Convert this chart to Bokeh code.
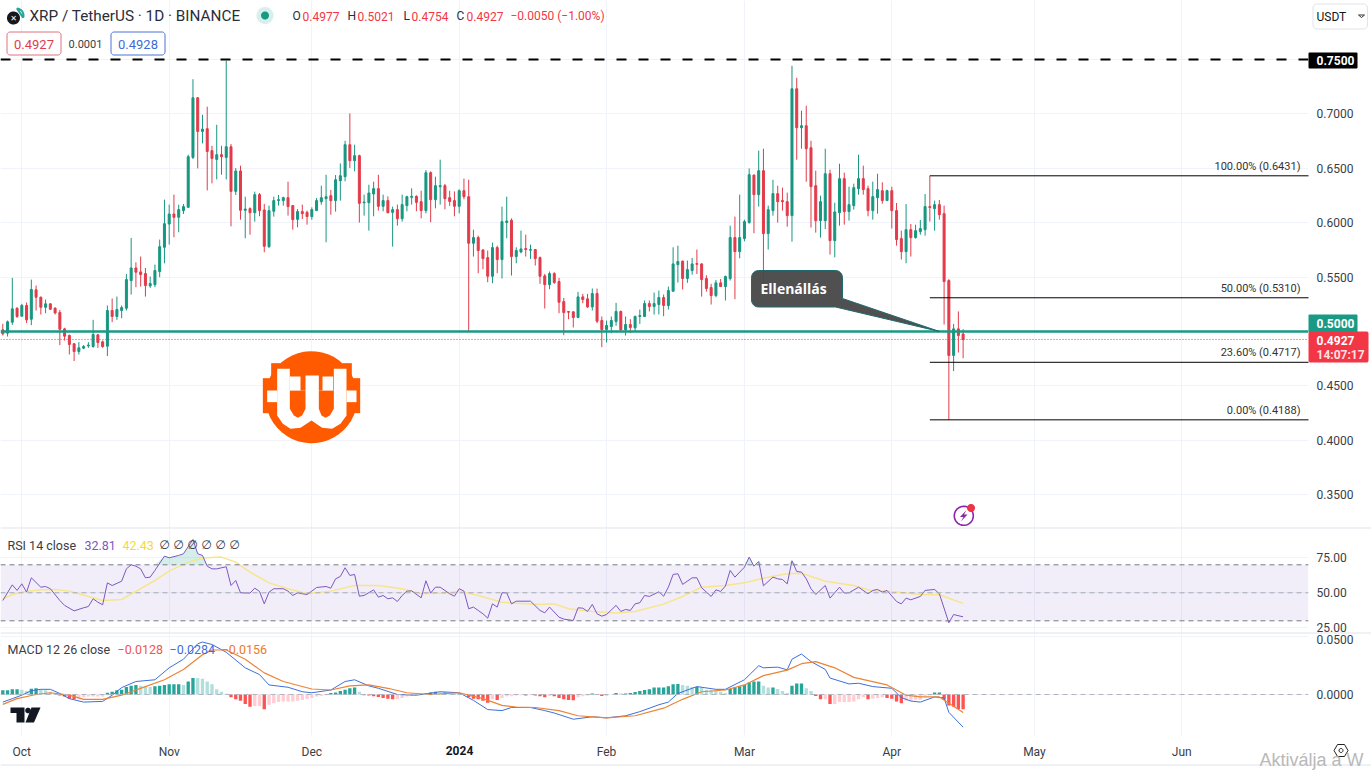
import numpy as np
import pandas as pd
from bokeh.embed import file_html
from bokeh.layouts import column
from bokeh.models import (BoxAnnotation, ColumnDataSource, FixedTicker, Label, NumeralTickFormatter,
                          PolyAnnotation, Range1d, Span)
from bokeh.plotting import figure
from bokeh.resources import INLINE

last_day = "2024-04-16"

highs = [
.5070,.5101,.5493,.5223,.5254,.5266,.5477,.5422,.5321,.5294,
.5260,.5223,.5199,.5034,.4972,.4893,.4902,.4875,.4902,.5107,
.4979,.4917,.5239,.5303,.5321,.5239,.5529,.5860,.5636,.5689,
.5584,.5505,.5615,.5845,.6212,.6166,.6258,.6166,.6172,.6625,
.7319,.7154,.6992,.7066,.6707,.6900,.6707,.7488,.6723,.6502,
.6524,.6239,.6141,.6285,.6273,.6172,.6157,.6239,.6255,.6239,
.6377,.6163,.6126,.6166,.6111,.6141,.6227,.6340,.6441,
.6300,.6438,.6545,.6753,.7004,.6717,.6625,.6258,.6349,.6377,
.6441,.6258,.6242,.6148,.6166,.6258,.6248,.6316,.6252,.6294,
.6484,.6472,.6423,.6579,.6356,.6294,.6288,.6307,.6405,.6395,
.5936,.5881,.5753,.5744,.5817,.5789,.6148,.6239,.6040,.5774,
.5927,.5890,.5799,.5759,.5689,.5529,.5551,.5545,.5493,.5309,
.5184,.5184,.5364,.5346,.5346,.5395,.5395,.5138,.5101,.5138,
.5263,.5193,.5138,.5113,.5147,.5202,.5285,.5285,.5358,.5376,
.5340,.5413,.5774,.5789,.5652,.5652,.5676,.5753,.5627,.5517,
.5438,.5474,.5483,.5514,.5973,.6056,.6258,.6028,.6499,.6441,
.6662,.6680,.6157,.6395,.6340,.6322,.6276,.7442,.7332,.7029,
.7075,.6753,.6478,.6248,.6680,.6487,.6184,.6542,.6460,.6331,
.6359,.6625,.6524,.6340,.6377,.6450,.6371,.6304,.6331,.6181,
.5927,.6172,.5988,.5982,.6025,.6264,.6431,.6203,.6209,.6157,
.5481,.5070,.5184,.5021]

body_tops = [
.5015,.5089,.5208,.5214,.5239,.5239,.5386,.5383,.5315,.5254,
.5254,.5214,.5174,.5024,.4963,.4887,.4850,.4862,.4875,.4972,
.4969,.4905,.5193,.5193,.5202,.5220,.5477,.5584,.5584,.5548,
.5532,.5441,.5560,.5780,.5991,.6080,.6080,.6120,.6148,.6607,
.7148,.7148,.6860,.6864,.6662,.6625,.6625,.6698,.6698,.6475,
.6475,.6126,.6129,.6258,.6258,.6117,.6111,.6203,.6212,.6230,
.6230,.6157,.6102,.6102,.6095,.6120,.6203,.6230,.6239,
.6248,.6395,.6432,.6717,.6717,.6616,.6616,.6190,.6273,.6313,
.6313,.6203,.6203,.6120,.6120,.6166,.6239,.6242,.6242,.6193,
.6460,.6460,.6340,.6340,.6340,.6230,.6203,.6294,.6294,.6239,
.5863,.5863,.5750,.5679,.5771,.5771,.6010,.6016,.6022,.5744,
.5759,.5762,.5753,.5753,.5679,.5511,.5532,.5532,.5459,.5275,
.5184,.5181,.5318,.5318,.5300,.5349,.5349,.5101,.5055,.5101,
.5184,.5184,.5064,.5064,.5138,.5147,.5257,.5257,.5257,.5312,
.5312,.5376,.5621,.5643,.5646,.5569,.5621,.5624,.5621,.5487,
.5404,.5447,.5447,.5505,.5863,.5863,.5863,.6010,.6441,.6438,
.6478,.6478,.6120,.6267,.6267,.6203,.6193,.7231,.7231,.6891,
.6891,.6689,.6340,.6193,.6450,.6450,.6099,.6405,.6405,.6166,
.6322,.6405,.6405,.6313,.6239,.6304,.6294,.6294,.6294,.6111,
.5854,.5936,.5936,.5927,.5946,.6148,.6148,.6166,.6166,.6083,
.5468,.5024,.5024,.4977]

body_bottoms = [
.4979,.4985,.5086,.5138,.5141,.5107,.5113,.5315,.5223,.5223,
.5205,.5171,.5021,.4957,.4881,.4816,.4816,.4847,.4868,.4862,
.4899,.4862,.4865,.5138,.5138,.5193,.5214,.5468,.5545,.5523,
.5422,.5419,.5431,.5551,.5774,.5988,.6050,.6050,.6111,.6141,
.6600,.6839,.6839,.6655,.6591,.6582,.6607,.6600,.6288,.6288,
.6114,.6114,.6092,.6092,.6111,.5783,.5780,.6105,.6203,.6203,
.6148,.6028,.6031,.6083,.6056,.6056,.6111,.6193,.6221,
.6203,.6203,.6386,.6423,.6570,.6570,.6178,.6184,.6184,.6264,
.6151,.6151,.6092,.6095,.6037,.6037,.6157,.6233,.6187,.6111,
.6111,.6212,.6212,.6331,.6221,.6196,.6151,.6151,.6239,.5811,
.5811,.5744,.5670,.5508,.5508,.5661,.5661,.6001,.5689,.5689,
.5731,.5753,.5747,.5670,.5508,.5431,.5431,.5450,.5269,.5174,
.5177,.5129,.5129,.5294,.5226,.5226,.5095,.5018,.5018,.5046,
.5092,.5015,.5015,.5037,.5034,.5138,.5138,.5230,.5230,.5248,
.5239,.5239,.5370,.5615,.5487,.5487,.5560,.5618,.5477,.5395,
.5330,.5330,.5413,.5413,.5487,.5734,.5734,.5854,.6001,.6258,
.6258,.5900,.5900,.6111,.6193,.6193,.6065,.6065,.6873,.6873,
.6680,.6331,.6019,.6019,.6019,.5835,.5835,.6092,.6102,.6102,
.6157,.6313,.6304,.6111,.6111,.6230,.6203,.6203,.6111,.5845,
.5734,.5734,.5863,.5863,.5918,.5936,.6139,.6129,.6074,.5459,
.4780,.4780,.4963,.4927]

lows = [
.4963,.4954,.5061,.5125,.5138,.5077,.5058,.5193,.5156,.5168,
.5199,.5156,.4875,.4917,.4789,.4728,.4789,.4838,.4850,.4850,
.4850,.4850,.4774,.5086,.5107,.5122,.5193,.5340,.5407,.5413,
.5321,.5401,.5407,.5499,.5627,.5799,.5866,.5912,.6080,.6141,
.6585,.6499,.6729,.6297,.6362,.6398,.6441,.6398,.5967,.6255,
.6028,.5857,.5890,.6010,.6059,.5728,.5768,.6056,.6157,.6157,
.6065,.5936,.5958,.6034,.5982,.6028,.6111,.6166,.5820,
.6074,.6102,.6203,.6380,.6502,.6472,.6001,.6065,.5927,.6059,
.6111,.6105,.6086,.5780,.5973,.6010,.6105,.6166,.6105,.6040,
.6086,.6004,.6132,.6166,.6123,.6154,.6059,.6086,.6215,.5000,
.5689,.5536,.5572,.5453,.5444,.5536,.5487,.5857,.5514,.5627,
.5719,.5689,.5667,.5606,.5438,.5211,.5389,.5438,.5168,.4966,
.5113,.5037,.5122,.5260,.5217,.5193,.5077,.4856,.4899,.4985,
.5052,.5000,.4963,.4985,.5000,.5070,.5138,.5184,.5156,.5156,
.5141,.5202,.5370,.5450,.5386,.5447,.5523,.5529,.5321,.5367,
.5248,.5315,.5413,.5285,.5468,.5297,.5673,.5829,.5991,.5903,
.6148,.5438,.5753,.6065,.6001,.6111,.5964,.5826,.6579,.6680,
.6377,.5955,.5909,.5863,.5942,.5707,.5682,.5973,.5982,.6019,
.6120,.6258,.6258,.6059,.6028,.6083,.6175,.6203,.5946,.5789,
.5661,.5627,.5689,.5854,.5890,.5881,.6010,.5927,.6028,.5064,
.4188,.4636,.4807,.4754]

directions = ("RGGRGRGRRG" "RRRRRRGGGG" "RRGRGGGGRR" "RGGGGGRGGG" "GRGRRGRGRG"
              "RGRGRRGGGG" "RRGRRGGGGR" "GGGRGRGGGR" "GRGRGGGRRG" "RGGRRRGRRG"
              "RRRGRGGRGG" "RGRRRGRRRR" "RGRRGRRGGG" "RGRGGGRGGR" "GGGRGGRRRR"
              "GRGGRGGGRG" "RGGRRRGRGR" "RRGGRGGRGG" "GRRGGRGRRR" "GRGGGRGRRR" "GRR")

rsi_bars = [0,2,3,4,5,6,8,9,10,12,13,15,17,18,19,20,21,22,23,25,26,27,28,29,30,31,32,34,35,37,38,40,41,42,43,44,45,47,48,49,50,
 52,53,54,55,56,57,59,60,61,62,63,64,65,66,68,69,70,71,72,73,74,75,76,78,79,80,81,82,83,84,85,86,88,89,90,91,92,94,95,96,97,98,
 99,100,101,102,103,104,105,106,107,108,111,113,114,115,117,118,120,121,122,123,124,125,126,127,129,130,131,132,133,134,135,136,
 138,139,140,141,142,143,145,146,147,149,150,151,152,153,154,156,157,158,159,160,162,163,164,165,166,167,168,169,170,171,173,174,
 176,177,178,180,182,183,184,185,186,188,189,190,191,193,194,196,197,199,200,202]
rsi_values = [44.5,55.7,51.7,56.4,50.5,60.7,54.0,54.5,52.9,44.5,41.0,37.1,39.3,40.2,45.7,43.3,41.4,57.1,55.2,58.3,67.1,70.0,69.0,67.1,60.7,61.2,66.0,76.2,75.0,76.7,77.9,88.1,77.9,76.7,69.0,67.1,67.1,68.6,55.2,58.8,50.0,
 49.8,53.3,51.0,42.1,50.5,52.9,52.9,51.2,48.1,50.0,49.3,48.8,51.2,53.8,54.5,53.3,60.0,61.7,67.9,62.4,63.1,47.6,48.1,52.1,46.9,48.1,45.7,46.4,43.8,48.1,51.2,51.4,46.4,58.6,49.8,54.0,54.0,49.3,47.6,52.9,51.2,38.6,
 39.8,37.4,35.0,31.9,42.1,39.8,50.0,50.0,42.1,44.0,44.0,37.4,35.7,39.8,32.6,31.2,30.2,39.3,39.0,36.7,41.7,35.0,33.3,34.5,41.0,36.7,38.1,37.4,42.1,42.9,48.1,47.4,
 50.7,47.6,54.0,63.1,63.6,56.0,60.7,60.7,53.6,47.4,52.1,51.0,54.8,66.0,61.2,68.3,75.5,69.0,72.4,55.0,61.2,60.0,59.5,56.4,72.9,65.2,64.8,60.0,52.9,48.8,55.2,46.2,
 54.0,49.8,50.0,54.0,49.3,51.7,52.4,50.5,51.7,43.8,42.1,46.2,45.0,47.4,51.7,52.4,49.3,28.6,34.5,32.81]

rsi_ma_bars = [0,2,4,8,11,14,18,21,25,28,32,35,39,42,46,49,52,56,60,64,69,74,79,84,88,93,96,100,105,108,113,116,119,124,129,133,139,143,147,152,156,161,165,168,173,179,183,187,193,197,202]
rsi_ma_values = [45.7,48.6,50.5,52.1,52.4,51.2,47.4,44.5,45.2,51.0,58.8,65.5,71.9,74.8,75.5,71.9,64.8,57.1,52.9,49.3,51.2,55.2,55.2,52.9,49.3,49.8,51.2,48.1,43.3,42.6,41.7,42.1,38.6,36.7,35.5,36.7,41.9,47.4,54.0,55.2,57.1,61.2,63.6,64.0,58.3,55.2,51.2,51.0,48.8,48.6,42.43]

macd_bars = [0,2,4,6,8,10,12,14,17,21,23,25,28,32,35,38,41,42,44,47,51,54,56,60,63,65,69,72,74,77,79,83,87,92,96,99,102,105,107,111,114,116,120,124,127,131,134,138,140,142,146,150,152,156,159,160,163,165,166,168,170,173,174,178,180,183,187,189,191,193,196,198,199,202]
macd_values = [-.0066,-.0036,-.0006,.0033,.0045,.0045,.0009,-.0036,-.0066,-.0060,-.0006,.0060,.0113,.0128,.0232,.0307,.0441,.0456,.0435,.0367,.0232,.0173,.0083,.0063,.0024,.0015,.0039,.0113,.0128,.0075,.0054,.0000,-.0006,.0024,.0015,-.0051,-.0131,-.0140,-.0113,-.0113,-.0140,-.0161,-.0215,-.0194,-.0203,-.0185,-.0149,-.0089,-.0066,.0009,.0069,.0045,.0045,.0128,.0250,.0232,.0238,.0215,.0307,.0352,.0286,.0218,.0143,.0092,.0098,.0069,.0054,-.0027,-.0057,-.0066,-.0021,-.0030,-.0155,-.0284]

signal_bars = [0,3,7,10,14,17,21,25,30,34,38,42,44,47,51,55,59,65,69,73,77,81,85,90,96,101,105,108,112,117,121,127,133,139,143,147,152,156,160,165,168,171,175,179,186,190,193,197,202]
signal_values = [-.0086,-.0036,.0000,.0015,-.0006,-.0042,-.0042,-.0006,.0069,.0128,.0218,.0346,.0387,.0387,.0307,.0188,.0113,.0048,.0039,.0075,.0083,.0054,.0015,.0000,.0015,-.0036,-.0095,-.0110,-.0113,-.0140,-.0185,-.0203,-.0185,-.0119,-.0042,.0024,.0039,.0083,.0164,.0212,.0268,.0286,.0232,.0149,.0083,-.0006,-.0021,-.0021,-.0156]

histogram = [
.0036,.0036,.0045,.0045,.0042,.0030,.0051,.0054,.0042,.0036,
.0024,.0012,-.0009,-.0018,-.0036,-.0042,-.0042,-.0024,-.0018,-.0018,
-.0018,-.0018,.0015,.0024,.0036,.0042,.0066,.0077,.0083,.0075,
.0072,.0066,.0072,.0077,.0083,.0089,.0089,.0089,.0083,.0113,
.0143,.0143,.0137,.0113,.0089,.0045,.0024,.0006,-.0024,-.0042,
-.0054,-.0083,-.0107,-.0101,-.0101,-.0128,-.0089,-.0077,-.0066,-.0060,
-.0060,-.0060,-.0054,-.0048,-.0042,-.0030,-.0018,-.0012,-.0006,.0012,
.0018,.0030,.0042,.0054,.0060,.0024,-.0006,-.0009,-.0015,-.0021,
-.0030,-.0036,-.0042,-.0042,-.0030,-.0018,-.0012,-.0006,.0003,.0009,
.0018,.0024,.0018,.0018,.0009,.0006,.0006,.0003,-.0024,-.0036,
-.0042,-.0054,-.0072,-.0042,-.0048,-.0030,-.0015,-.0015,-.0009,-.0006,
-.0009,-.0006,-.0009,-.0015,-.0024,-.0012,-.0015,-.0030,-.0042,-.0048,
-.0051,-.0024,-.0015,-.0009,.0009,-.0003,-.0012,-.0012,.0000,.0012,
.0009,.0009,.0012,.0021,.0030,.0039,.0045,.0060,.0060,.0060,
.0072,.0089,.0092,.0083,.0077,.0066,.0066,.0060,.0042,.0039,
.0036,.0024,.0012,.0048,.0060,.0072,.0083,.0104,.0113,.0113,
.0077,.0060,.0060,.0048,.0030,.0012,.0077,.0095,.0095,.0054,
.0030,-.0012,-.0042,-.0042,-.0083,-.0083,-.0066,-.0066,-.0066,-.0060,
-.0042,-.0024,-.0042,-.0036,-.0030,-.0024,-.0030,-.0036,-.0060,-.0077,
-.0054,-.0054,-.0045,-.0045,-.0018,-.0009,.0018,.0018,-.0045,-.0095,
-.0107,-.0125,-.0128]

fib_levels = [0.6431, 0.5310, 0.4717, 0.4188]
fib_labels = ["100.00% (0.6431)", "50.00% (0.5310)", "23.60% (0.4717)", "0.00% (0.4188)"]
fib_start_bar = 195
price_ticks = [0.35, 0.40, 0.45, 0.50, 0.55, 0.60, 0.65, 0.70, 0.75]
rsi_ticks = [25, 50, 75]
macd_ticks = [0.0, 0.05]
month_dates = ["2023-10-01", "2023-11-01", "2023-12-01", "2024-01-01", "2024-02-01", "2024-03-01", "2024-04-01", "2024-05-01", "2024-06-01"]
month_labels = ["Oct", "Nov", "Dec", "", "Feb", "Mar", "Apr", "May", "Jun"]

UP, DOWN = "#189680", "#e23b4b"
TXT = "#3a3d45"
FONT = "Roboto"

dates = pd.date_range(end=last_day, periods=len(highs), freq="D")
DAY = 86400000.0
t0 = dates[0]
x_range = Range1d(t0 + pd.Timedelta(days=-0.484), t0 + pd.Timedelta(days=274.65))
month_ms = [pd.Timestamp(d).value / 1e6 for d in month_dates]
GRID = "#f0f3fa"


def make_fig(h, y_range, ticks, fmt, bottom=0, axis=False, blank=()):
    p = figure(width=1371, height=h, x_axis_type="datetime", x_range=x_range, y_range=y_range,
               output_backend="svg", toolbar_location=None, y_axis_location="right",
               min_border_left=0, min_border_top=0, min_border_right=63, min_border_bottom=bottom)
    p.outline_line_color = None
    p.background_fill_color = "white"
    p.border_fill_color = "white"
    p.xaxis.ticker = FixedTicker(ticks=month_ms)
    p.xaxis.major_label_overrides = {m: l for m, l in zip(month_ms, month_labels)}
    p.xaxis.axis_line_color = None
    p.xaxis.major_tick_line_color = None
    p.xaxis.minor_tick_line_color = None
    p.xaxis.major_tick_out = 0
    p.xaxis.major_label_text_font = FONT
    p.xaxis.major_label_text_font_size = "12px"
    p.xaxis.major_label_text_color = TXT
    p.xaxis.major_label_standoff = 9
    p.xaxis.visible = axis
    p.yaxis.ticker = FixedTicker(ticks=ticks)
    p.yaxis.formatter = NumeralTickFormatter(format=fmt)
    p.yaxis.major_label_overrides = {b: "" for b in blank}
    p.yaxis.axis_line_color = None
    p.yaxis.major_tick_line_color = None
    p.yaxis.minor_tick_line_color = None
    p.yaxis.major_tick_out = 0
    p.yaxis.major_label_text_font = FONT
    p.yaxis.major_label_text_font_size = "12px"
    p.yaxis.major_label_text_color = TXT
    p.yaxis.major_label_standoff = 8
    p.xgrid.grid_line_color = GRID
    p.ygrid.grid_line_color = GRID
    return p


# transparent page-wide layer for everything TradingView draws over the panels
ov = figure(width=1371, height=771, x_range=Range1d(0, 1371), y_range=Range1d(771, 0),
            output_backend="svg", toolbar_location=None, min_border=0,
            x_axis_location=None, y_axis_location=None, margin=(-771, 0, 0, 0))
ov.frame_align = False
ov.grid.visible = False
ov.outline_line_color = None
ov.background_fill_color = None
ov.border_fill_color = None


def poly(pts, fill="#000000", line=None, lw=1.0, alpha=1.0):
    ov.add_layout(PolyAnnotation(xs=[float(a) for a, _ in pts], ys=[float(b) for _, b in pts],
                                 xs_units="canvas", ys_units="canvas",
                                 fill_color=fill, fill_alpha=alpha if fill else 0,
                                 line_color=line, line_width=lw, line_alpha=1 if line else 0))


def disc(cx, cy, r, n=48, a0=0.0, a1=2 * np.pi):
    t = np.linspace(a0, a1, n)
    return list(zip(cx + r * np.cos(t), cy + r * np.sin(t)))


def rrect(x0, y0, x1, y1, r):
    pts = []
    for cx, cy, a in [(x1 - r, y0 + r, -np.pi / 2), (x1 - r, y1 - r, 0), (x0 + r, y1 - r, np.pi / 2), (x0 + r, y0 + r, np.pi)]:
        pts += disc(cx, cy, r, n=7, a0=a, a1=a + np.pi / 2)
    return pts


def rect(x0, y0, x1, y1):
    return [(x0, y0), (x1, y0), (x1, y1), (x0, y1)]


def text(x, y, s, color=TXT, size=12, style="normal", align="left", font=FONT):
    ov.add_layout(Label(x=x, y=y, x_units="canvas", y_units="canvas", text=s, text_color=color,
                        text_font=font, text_font_size=f"{size}px", text_font_style=style,
                        text_align=align, text_baseline="middle"))


# ---------- price panel ----------
main = make_fig(528, Range1d(0.31893, 0.80423), price_ticks, "0.0000", blank=(0.75, 0.5))
colors = [UP if d == "G" else DOWN for d in directions]
src = ColumnDataSource(dict(x=dates, high=highs, low=lows, top=body_tops, bottom=body_bottoms, color=colors))
main.segment("x", "high", "x", "low", color="color", line_width=1, source=src)
main.vbar("x", width=0.42 * DAY, top="top", bottom="bottom", fill_color="color", line_color="color", line_width=1, source=src)

main.add_layout(Span(location=0.75, dimension="width", line_color="#000000", line_width=2, line_dash="10 12"))
main.add_layout(Span(location=0.5, dimension="width", line_color="#1a9a84", line_width=2.5))
main.add_layout(Span(location=body_bottoms[-1], dimension="width", line_color="#e23b4b", line_width=1, line_dash="1 2"))

fib_x0 = [dates[fib_start_bar]] * 4
fib_x1 = [t0 + pd.Timedelta(days=300)] * 4
main.segment(fib_x0, fib_levels, fib_x1, fib_levels, color="#000000", line_width=1)
for lv, lb in zip(fib_levels, fib_labels):
    text(1300, 331 - (lv - 0.5) * 1088 - 9.5, lb, color="#333333", size=11, align="right")

# price tags
poly(rrect(1308, 52, 1357, 68, 1), fill="#000000")
text(1316, 60, "0.7500", color="#ffffff", style="bold")
poly(rrect(1308, 314, 1357, 332, 1), fill="#1a9a84")
text(1316, 322.5, "0.5000", color="#ffffff", style="bold")
poly(rrect(1308, 331, 1368, 362, 2), fill="#f23645")
text(1316, 340, "0.4927", color="#ffffff", style="bold")
text(1316, 354, "14:07:17", color="#ffe0e3", style="bold")

# callout
box = rrect(751, 270, 842, 306.5, 7)
poly(box[:7] + [(842, 298), (939, 331), (835, 306.5)] + box[14:], fill="#4a4a4a", line="#1e6a70", lw=1, alpha=0.97)
text(760, 288, "Ellenállás", color="#ffffff", size=14, style="bold", font="Open Sans")


# orange logo
def z(pts):
    return [(250 + a / 3, 340 + b / 3) for a, b in pts]


ORANGE, WHITE = "#ff5a00", "#ffffff"
poly(disc(311, 396.7, 46), fill=ORANGE)
for r_ in [rect(37, 113, 80, 218), rect(62, 68, 90, 113), rect(286, 113, 329, 218), rect(276, 68, 304, 113)]:
    poly(z(r_), fill=ORANGE)
poly(z([(80,85),(118,85),(118,150),(165,150),(165,105),(205,105),(205,150),(250,150),(250,85),(288,85),(288,225),(270,250),(245,265),(215,262),(183,240),(150,262),(120,265),(97,250),(80,225)]), fill=WHITE)
poly(z([(118,150),(165,150),(165,205),(155,225),(142,232),(130,225),(118,205)]), fill=ORANGE)
poly(z([(205,150),(250,150),(250,205),(238,225),(225,232),(213,225),(205,205)]), fill=ORANGE)
for r_ in [rect(118, 108, 150, 150), rect(216, 108, 248, 150), rect(50, 150, 80, 185), rect(288, 150, 318, 185)]:
    poly(z(r_), fill=WHITE)

# lightning icon
poly(disc(963.3, 515.3, 9.5), fill=None, line="#8e24aa", lw=1.6)
poly([(966, 509.5), (959.5, 516.5), (963, 516.5), (960.5, 521), (967, 514), (963.5, 514)], fill="#8e24aa")
poly(disc(970.5, 507.5, 4), fill="#ee3344")

# header
poly(disc(13, 17.5, 6.5), fill="#15181c")
text(13, 17.5, "✕", color="#ffffff", size=8, align="center", font="DejaVu Sans")
poly(disc(16, 15, 7, n=14, a0=-1.5, a1=0.3), fill=None, line="#22a699", lw=2)
text(29, 15.5, "XRP / TetherUS · 1D · BINANCE", color="#2a2e39", size=15.3)
poly(disc(264.5, 15, 8.5), fill="#d8efeb")
poly(disc(264.5, 15, 4), fill="#179a85")
for x_, letter, val in [(292, "O", "0.4977"), (347, "H", "0.5021"), (403, "L", "0.4754"), (456, "C", "0.4927")]:
    text(x_, 15.5, letter, color="#2a2e39", size=12)
    text(x_ + (10 if letter in "OHC" else 8), 15.5, val, color="#f23645", size=12)
text(510, 15.5, "−0.0050 (−1.00%)", color="#f23645", size=12)
poly(rrect(6.5, 31.5, 60.5, 54.5, 3), fill="#ffffff", line="#e0727e", lw=1)
text(33.5, 43.5, "0.4927", color="#e23b4b", size=13, align="center")
text(85, 43.5, "0.0001", color="#3a3d45", size=11, align="center")
poly(rrect(110.5, 31.5, 164.5, 54.5, 3), fill="#ffffff", line="#4a72d8", lw=1)
text(137.5, 43.5, "0.4928", color="#3f6bd8", size=13, align="center")
poly(rrect(1312.5, 3.5, 1367, 28.5, 4), fill="#ffffff", line="#e0e3eb", lw=1)
text(1316, 16, "USDT", color="#131722", size=12)
poly([(1358, 14.5), (1361, 17), (1364, 14.5)], fill=None, line="#333333", lw=1)
poly(rect(0, 527, 1371, 528), fill="#e0e3eb")

# ---------- RSI panel ----------
rsi_fig = make_fig(105, Range1d(20.93, 95.93), rsi_ticks, "0.00", blank=(25,))
rsi_fig.add_layout(BoxAnnotation(bottom=30, top=70, fill_color="#7e57c2", fill_alpha=0.1, line_alpha=0, level="underlay"))
rsi_x = dates[rsi_bars]
rsi_arr = np.array(rsi_values)
rsi_fig.varea(rsi_x, np.full(len(rsi_arr), 70.0), np.maximum(rsi_arr, 70.0), fill_color="#089981", fill_alpha=0.17)
rsi_fig.varea(rsi_x, np.full(len(rsi_arr), 30.0), np.minimum(rsi_arr, 30.0), fill_color="#f23645", fill_alpha=0.17)
for lv, col in [(70, "#787b86"), (50, "#a6a8b2"), (30, "#787b86")]:
    rsi_fig.add_layout(Span(location=lv, dimension="width", line_color=col, line_width=1, line_dash="5 4"))
rsi_fig.line(dates[rsi_ma_bars], rsi_ma_values, line_color="#f7e58c", line_width=1.5)
rsi_fig.line(rsi_x, rsi_values, line_color="#7e57c2", line_width=1)
text(7, 544.5, "RSI 14 close", size=12.5)
text(84, 544.5, "32.81", color="#7e57c2", size=12.5)
text(122, 544.5, "42.43", color="#f4d93a", size=12.5)
for k in range(6):
    text(164 + k * 14, 544.5, "∅", size=12, align="center", font="DejaVu Sans")
text(1316, 627, "25.00", size=12)
poly(rect(0, 632, 1371, 633), fill="#e0e3eb")

# ---------- MACD panel ----------
macd_fig = make_fig(138, Range1d(-0.03565, 0.05304), macd_ticks, "0.0000", bottom=36, axis=True, blank=(0.05,))
hist_colors = []
for k, v in enumerate(histogram):
    prev = histogram[k - 1] if k else v
    if v >= 0:
        hist_colors.append("#26a69a" if v > prev or (v == prev and k != 41) else "#b2dfdb")
    else:
        hist_colors.append("#ff5252" if v < prev else "#ffcdd2")
macd_fig.vbar(dates, width=0.7 * DAY, top=histogram, bottom=0, fill_color=hist_colors, line_color=None)
macd_fig.add_layout(Span(location=0, dimension="width", line_color="#b2b5be", line_width=1, line_dash="5 4"))
macd_fig.line(dates[macd_bars], macd_values, line_color="#3d6fdc", line_width=1)
macd_fig.line(dates[signal_bars], signal_values, line_color="#ec8436", line_width=1.2)
text(7, 649, "MACD 12 26 close", size=12.5)
text(117, 649, "−0.0128", color="#f0564e", size=12.5)
text(169, 649, "−0.0284", color="#3d6fdc", size=12.5)
text(221, 649, "−0.0156", color="#ec7a28", size=12.5)
text(1316, 638.5, "0.0500", size=12)
# TradingView mark
poly([(10, 707), (24, 707), (24, 722), (16, 722), (16, 712.5), (10, 712.5)], fill="#131722")
poly(disc(27.5, 710, 2.8), fill="#131722")
poly([(31, 707), (40, 707), (33.5, 722), (25, 722)], fill="#131722")
text(459, 750, "2024", color="#131722", size=12, style="bold", align="center")
poly(rect(0, 764, 1371, 765), fill="#e0e3eb")
# settings icon
poly([(1333.5, 750), (1337, 744), (1344, 744), (1347.5, 750), (1344, 756), (1337, 756)], fill=None, line="#222222", lw=1)
poly(disc(1340.5, 750, 2, n=14), fill=None, line="#222222", lw=1)
text(1259, 759, "Aktiválja a W", color="#b9b9b9", size=18, font="Liberation Sans")

page = column(main, rsi_fig, macd_fig, ov, spacing=0)
open("out.html", "w").write(file_html(page, INLINE))
